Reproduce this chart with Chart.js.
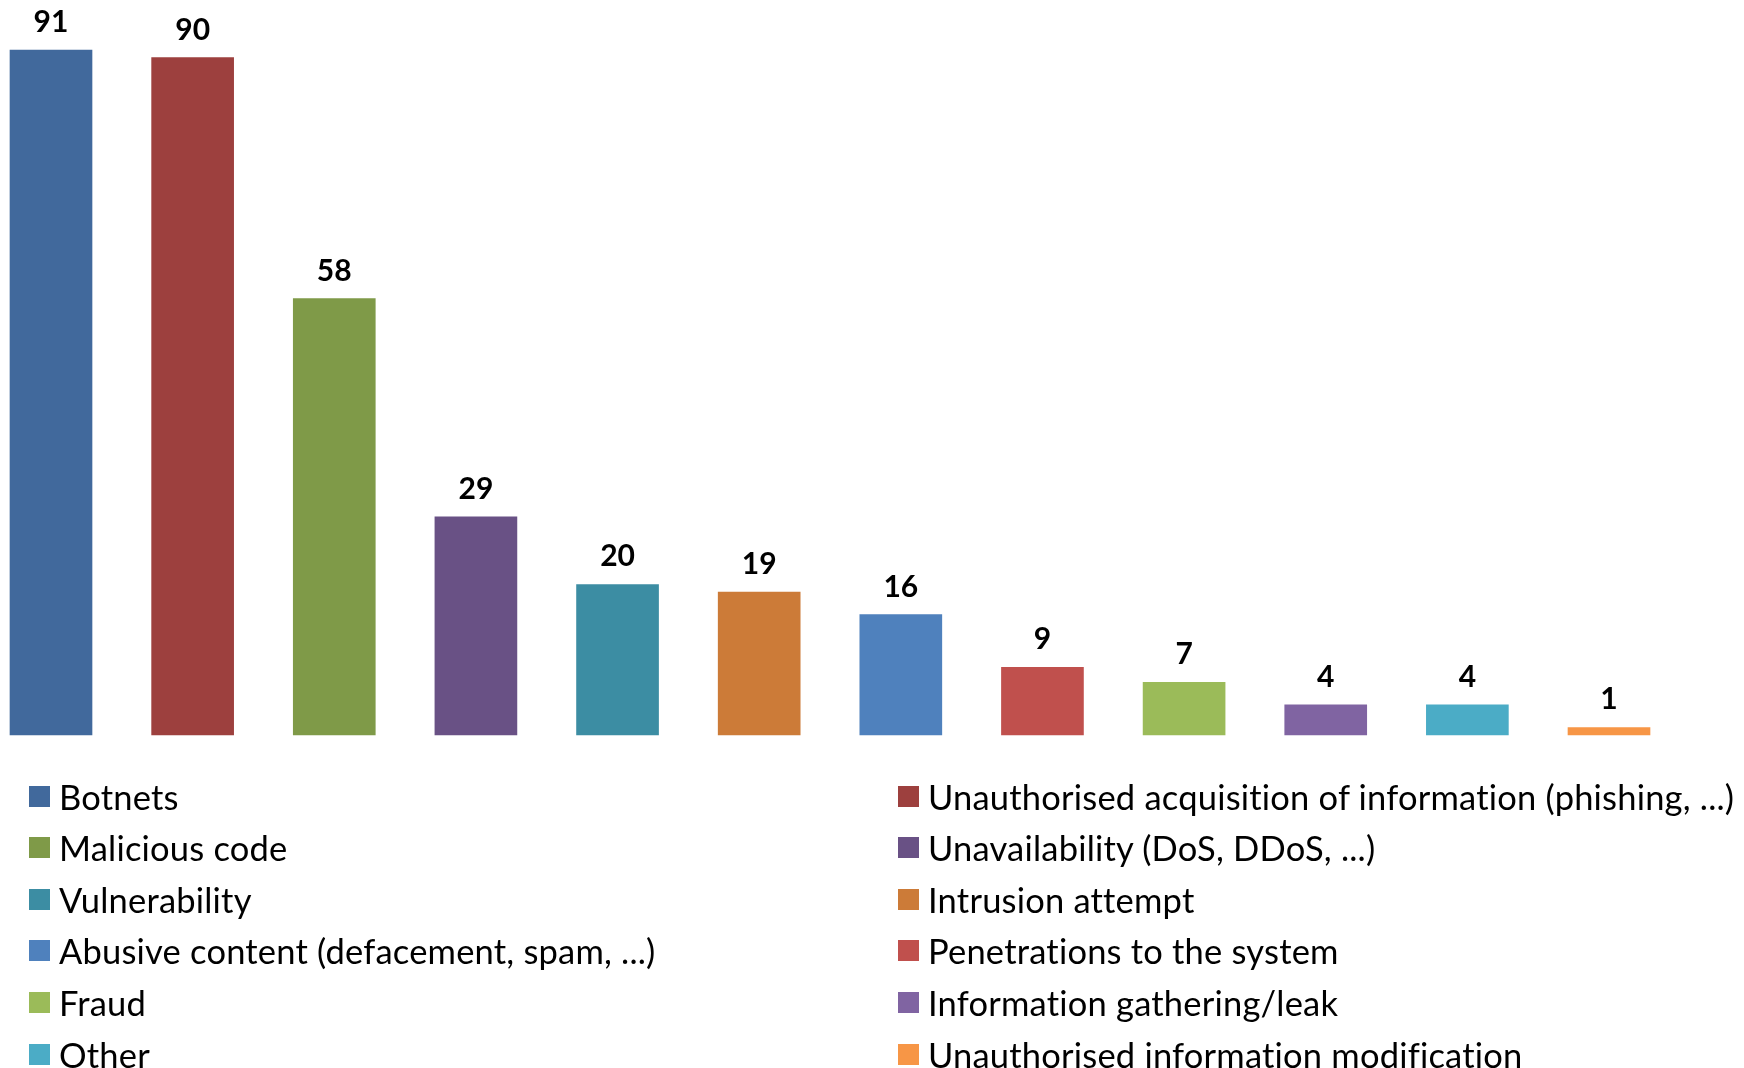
<!DOCTYPE html>
<html lang="en">
<head>
    <meta charset="UTF-8">
    <title>Incidents by type</title>
    <script src="https://cdn.jsdelivr.net/npm/chart.js"></script>
    <style>
        html, body { margin: 0; padding: 0; background: #fff; }
        .wrap { position: relative; width: 1744px; height: 1068px; overflow: hidden; }
        #myChart { position: absolute; left: 0; top: 0; }
        #legend { position: absolute; left: 0; top: 0; width: 1744px; height: 1068px; pointer-events: none; }
        .item { position: absolute; height: 44px; display: flex; align-items: center;
                font-family: Lato, sans-serif; font-size: 34.5px; letter-spacing: 0.2px; color: #000; white-space: nowrap; }
        .item span.box { width: 21px; height: 21px; margin-right: 9px; flex: none; }
    </style>
</head>
<body>
<div class="wrap">
    <canvas id="myChart" width="1744" height="1068"></canvas>
    <div id="legend"></div>
</div>

<script>
    // incident types, in the order of the bars
    const categories = [
        'Botnets',
        'Unauthorised acquisition of information (phishing, ...)',
        'Malicious code',
        'Unavailability (DoS, DDoS, ...)',
        'Vulnerability',
        'Intrusion attempt',
        'Abusive content (defacement, spam, ...)',
        'Penetrations to the system',
        'Fraud',
        'Information gathering/leak',
        'Other',
        'Unauthorised information modification'
    ];
    const counts = [91, 90, 58, 29, 20, 19, 16, 9, 7, 4, 4, 1];
    const colors = [
        '#41699C', '#9D403E', '#7F9A48', '#695185', '#3C8DA3', '#CC7B38',
        '#4F81BD', '#C0504D', '#9BBB59', '#8064A2', '#4BACC6', '#F79646'
    ];

    const labelFont = 'bold 30px Lato, sans-serif';

    // numbers on top of each bar
    const valueLabels = {
        id: 'valueLabels',
        afterDatasetsDraw(chart) {
            const ctx = chart.ctx;
            const meta = chart.getDatasetMeta(0);
            ctx.save();
            ctx.font = labelFont;
            ctx.fillStyle = '#000';
            ctx.textAlign = 'center';
            ctx.textBaseline = 'alphabetic';
            meta.data.forEach((bar, i) => {
                ctx.fillText(chart.data.datasets[0].data[i], bar.x, bar.y - 18);
            });
            ctx.restore();
        }
    };

    // two column legend under the plot
    const htmlLegend = {
        id: 'htmlLegend',
        afterUpdate(chart) {
            const box = document.getElementById('legend');
            box.innerHTML = '';
            chart.data.labels.forEach((label, i) => {
                const col = i % 2;
                const row = Math.floor(i / 2);
                const item = document.createElement('div');
                item.className = 'item';
                item.style.left = (col === 0 ? 29 : 898) + 'px';
                item.style.top = (796 + row * 51.6 - 22) + 'px';
                const sw = document.createElement('span');
                sw.className = 'box';
                sw.style.background = chart.data.datasets[0].backgroundColor[i];
                const txt = document.createElement('span');
                txt.textContent = label;
                item.appendChild(sw);
                item.appendChild(txt);
                box.appendChild(item);
            });
        }
    };

    new Chart(document.getElementById('myChart'), {
        type: 'bar',
        data: {
            labels: categories,
            datasets: [{
                data: counts,
                backgroundColor: colors,
                borderWidth: 0,
                barThickness: 82,
                clip: false
            }]
        },
        options: {
            responsive: false,
            devicePixelRatio: 1,
            animation: false,
            layout: { padding: { left: 51, right: 135, top: 5, bottom: 333 } },
            plugins: {
                legend: { display: false },
                tooltip: { enabled: false }
            },
            scales: {
                x: { display: false, offset: false },
                y: { display: false, min: 0, max: 97 }
            }
        },
        plugins: [valueLabels, htmlLegend]
    });
</script>
</body>
</html>
